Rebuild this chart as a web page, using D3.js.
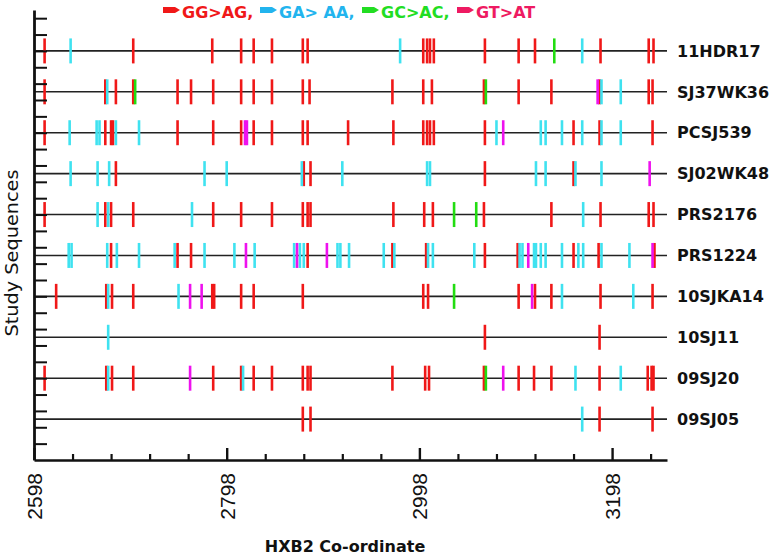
<!DOCTYPE html>
<html>
<head>
<meta charset="utf-8">
<script src="https://cdnjs.cloudflare.com/ajax/libs/d3/7.8.5/d3.min.js"></script>
<style>
  body { margin: 0; background: #fff; }
  svg text { font-family: "DejaVu Sans", sans-serif; }
</style>
</head>
<body>
<div class="chart"></div>
<script>
var sequences = ['11HDR17', 'SJ37WK36', 'PCSJ539', 'SJ02WK48', 'PRS2176',
    'PRS1224', '10SJKA14', '10SJ11', '09SJ20', '09SJ05'];

// HXB2 positions of each mutation type, one list per sequence (same order as above)
var ggToAg = [
    [2609, 2701, 2783, 2813, 2826, 2845, 2877, 2882, 3002, 3006, 3009, 3013, 3066, 3101, 3118, 3186, 3236, 3241],
    [2609, 2672, 2683, 2701, 2747, 2761, 2784, 2813, 2826, 2845, 2877, 2884, 2970, 3002, 3011, 3065, 3101, 3135, 3185, 3236, 3240],
    [2609, 2672, 2678, 2680, 2747, 2784, 2813, 2826, 2845, 2877, 2882, 2924, 2971, 3002, 3006, 3009, 3013, 3066, 3158, 3185, 3240],
    [2683, 2878, 2885, 3066, 3158],
    [2609, 2672, 2678, 2701, 2784, 2813, 2845, 2877, 2882, 2885, 2971, 3003, 3012, 3065, 3135, 3186, 3236, 3241],
    [2678, 2747, 2761, 2882, 2970, 3005, 3066, 3100, 3158, 3184, 3242],
    [2621, 2673, 2679, 2701, 2783, 2785, 2813, 2826, 2877, 3002, 3007, 3101, 3118, 3135, 3186, 3240],
    [3066, 3185],
    [2609, 2673, 2679, 2701, 2784, 2813, 2826, 2845, 2877, 2882, 2885, 2970, 3004, 3008, 3065, 3101, 3117, 3135, 3185, 3235, 3239, 3241],
    [2877, 2885, 3185, 3240]
];
var gaToAa = [
    [2636, 2978, 3167],
    [2674, 3187, 3207],
    [2635, 2663, 2666, 2683, 2707, 3078, 3124, 3129, 3146, 3167, 3187, 3207],
    [2636, 2664, 2676, 2775, 2798, 2876, 2918, 3006, 3009, 3119, 3129, 3160, 3187],
    [2664, 2675, 2762, 3168],
    [2634, 2637, 2674, 2684, 2707, 2744, 2775, 2806, 2827, 2868, 2874, 2878, 2913, 2916, 2925, 2961, 2972,
     3007, 3012, 3055, 3102, 3105, 3117, 3119, 3124, 3129, 3146, 3163, 3168, 3187, 3216],
    [2675, 2748, 3146, 3220],
    [2675],
    [2675, 2815, 3160, 3207],
    [3167]
];
var gcToAc = [
    [3138],
    [2703, 3067],
    [],
    [],
    [3034, 3057],
    [],
    [3034],
    [],
    [3067],
    []
];
var gtToAt = [
    [],
    [3183],
    [2817, 2819, 3085],
    [3237],
    [],
    [2818, 2871, 2902, 3111, 3240],
    [2760, 2772, 3115],
    [],
    [2760, 3085],
    []
];

var xMajorTicks = [2598, 2798, 2998, 3198];
var xMinorTicks = d3.range(2638, 3255, 40).filter(d => xMajorTicks.indexOf(d) < 0);

var mutationTypes = [
    { label: 'GG>AG,', mark: '#f01818', text: '#f01818', sites: ggToAg },
    { label: 'GA> AA,', mark: '#3fe2f0', text: '#22b4ee', sites: gaToAa },
    { label: 'GC>AC,', mark: '#22dd11', text: '#22dd22', sites: gcToAc },
    { label: 'GT>AT', mark: '#ee11ee', text: '#ee1a62', sites: gtToAt }
];

var W = 780, H = 555;
var plot = { left: 34, right: 667, top: 10, bottom: 460 };

var svg = d3.select('.chart')
    .append('svg')
    .attr('width', W)
    .attr('height', H);

var xScale = d3.scaleLinear()
    .domain([2598, 3255])
    .range([plot.left, plot.right]);

var yScale = d3.scaleLinear()
    .domain([0, 11])
    .range([plot.bottom, plot.top]);

// row index 0 sits at the top (value 10)
var rowY = i => yScale(sequences.length - i);

// sequence base lines
svg.append('g')
    .selectAll('line')
    .data(sequences)
    .enter()
    .append('line')
    .attr('x1', plot.left)
    .attr('x2', plot.right)
    .attr('y1', (d, i) => rowY(i))
    .attr('y2', (d, i) => rowY(i))
    .style('stroke', '#222')
    .style('stroke-width', 1.6);

// mutation marks
mutationTypes.forEach(function (type) {
    var marks = [];
    type.sites.forEach(function (list, i) {
        list.forEach(p => marks.push({ row: i, pos: p }));
    });
    svg.append('g')
        .selectAll('line')
        .data(marks)
        .enter()
        .append('line')
        .attr('x1', d => xScale(d.pos))
        .attr('x2', d => xScale(d.pos))
        .attr('y1', d => rowY(d.row) - 12.5)
        .attr('y2', d => rowY(d.row) + 12.5)
        .style('stroke', type.mark)
        .style('stroke-width', 2.6);
});

// row labels
svg.append('g')
    .selectAll('text')
    .data(sequences)
    .enter()
    .append('text')
    .attr('x', plot.right + 10)
    .attr('y', (d, i) => rowY(i))
    .attr('dy', '0.36em')
    .style('font-size', '16px')
    .style('font-weight', 'bold')
    .style('fill', '#111')
    .text(d => d);

// x axis: minor then major ticks, pointing up into the plot
svg.append('g')
    .attr('transform', `translate(0, ${plot.bottom})`)
    .call(d3.axisBottom(xScale).tickValues(xMinorTicks).tickSize(-6).tickSizeOuter(0).tickFormat(''))
    .call(g => g.select('.domain').remove())
    .selectAll('line').style('stroke', '#111').style('stroke-width', 2.2);

var xAxis = svg.append('g')
    .attr('transform', `translate(0, ${plot.bottom})`)
    .call(d3.axisBottom(xScale).tickValues(xMajorTicks).tickSize(-12).tickSizeOuter(0).tickFormat(d3.format('d')));
xAxis.select('.domain').style('stroke', '#111').style('stroke-width', 2.6);
xAxis.selectAll('.tick line').style('stroke', '#111').style('stroke-width', 2.4);
xAxis.selectAll('.tick text')
    .attr('transform', 'rotate(-90)')
    .attr('x', -13)
    .attr('y', 0)
    .attr('dy', '0.36em')
    .style('text-anchor', 'end')
    .style('font-family', '"Liberation Sans", sans-serif')
    .style('font-size', '21px')
    .style('fill', '#111');

// y axis with short inward ticks
var yAxis = svg.append('g')
    .attr('transform', `translate(${plot.left}, 0)`)
    .call(d3.axisRight(yScale).tickValues(d3.range(1, 28).map(k => k * 0.4)).tickSize(13).tickSizeOuter(0).tickFormat(''));
yAxis.select('.domain').style('stroke', '#111').style('stroke-width', 2.8);
yAxis.selectAll('.tick line').style('stroke', '#111').style('stroke-width', 2);

// axis titles
svg.append('text')
    .attr('x', 345)
    .attr('y', 552)
    .style('text-anchor', 'middle')
    .style('font-size', '16px')
    .style('font-weight', 'bold')
    .style('fill', '#111')
    .text('HXB2 Co-ordinate');

svg.append('text')
    .attr('transform', 'translate(18, 253) rotate(-90)')
    .style('text-anchor', 'middle')
    .style('font-size', '17px')
    .style('fill', '#111')
    .attr('textLength', 167)
    .attr('lengthAdjust', 'spacingAndGlyphs')
    .text('Study Sequences');

// legend with little arrow tags
var legendX = [163, 260, 362, 457];
var legend = svg.append('g');
mutationTypes.forEach(function (type, i) {
    var x0 = legendX[i];
    legend.append('path')
        .attr('d', `M${x0},7 h12 l5,3 l-5,3 h-12 z`)
        .style('fill', type.text);
    legend.append('text')
        .attr('x', x0 + 19)
        .attr('y', 18)
        .style('font-size', '16px')
        .style('font-weight', 'bold')
        .style('fill', type.text)
        .text(type.label);
});
</script>
</body>
</html>
